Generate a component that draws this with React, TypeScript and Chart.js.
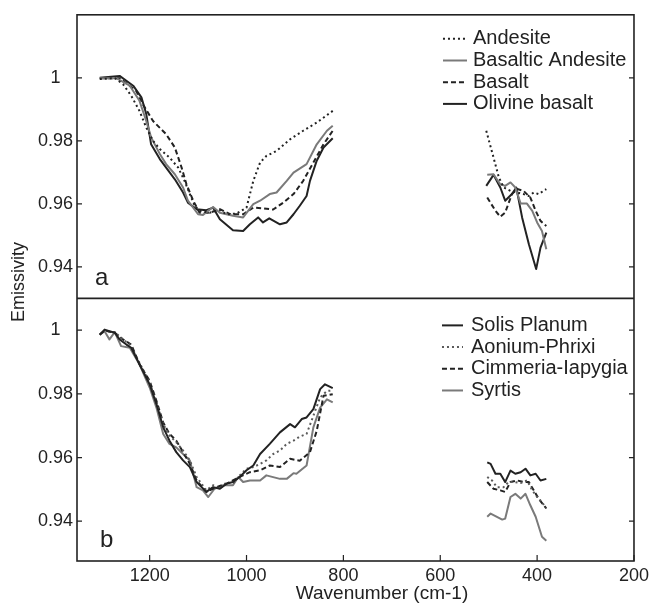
import React, { useEffect, useRef } from "react";
import { Chart, registerables } from "chart.js";

Chart.register(...registerables);

const FONT = "'Liberation Sans', Arial, Helvetica, sans-serif";
const INK = "#222222";
const GRAY = "#7a7a7a";
const DOTGRAY = "#5a5a5a";

const xTickValues = [1200, 1000, 800, 600, 400, 200];
const yTickValues = [1, 0.98, 0.96, 0.94];
const panelLabels = ["a", "b"];
const xTitle = "Wavenumber (cm-1)";
const yTitle = "Emissivity";

// ---------- Panel a ----------
const andesiteHiWn = [1303, 1272, 1255, 1238, 1221, 1207, 1193, 1179, 1159, 1141, 1128, 1117, 1107, 1097, 1076, 1055, 1041, 1021, 1000, 986, 972, 959, 938, 910, 883, 855, 822];
const andesiteHiEm = [0.9996, 0.9999, 0.998, 0.9943, 0.9895, 0.9842, 0.98, 0.9774, 0.9747, 0.9715, 0.9673, 0.9631, 0.9594, 0.9578, 0.9572, 0.958, 0.9567, 0.9569, 0.9588, 0.9673, 0.9731, 0.9752, 0.9768, 0.9805, 0.9832, 0.9858, 0.9895];
const andesiteLoWn = [505, 490, 479, 469, 455, 441, 428, 417, 407, 397, 381];
const andesiteLoEm = [0.9832, 0.9747, 0.9684, 0.9652, 0.9641, 0.9636, 0.9631, 0.9625, 0.9636, 0.9631, 0.9647];

const basAndHiWn = [1303, 1269, 1241, 1221, 1207, 1197, 1179, 1166, 1148, 1131, 1121, 1100, 1090, 1069, 1055, 1028, 1007, 986, 972, 952, 938, 917, 903, 876, 855, 834, 822];
const basAndHiEm = [0.9999, 0.9999, 0.9975, 0.9927, 0.9863, 0.9811, 0.9758, 0.9726, 0.9694, 0.9652, 0.961, 0.9567, 0.9565, 0.959, 0.9572, 0.9562, 0.9557, 0.9599, 0.961, 0.9631, 0.9636, 0.9673, 0.9699, 0.9726, 0.9789, 0.9832, 0.9848];
const basAndLoWn = [503, 490, 476, 466, 455, 445, 434, 421, 410, 400, 390, 381];
const basAndLoEm = [0.9692, 0.9694, 0.9662, 0.9657, 0.9668, 0.9652, 0.9601, 0.9601, 0.9578, 0.9541, 0.9514, 0.9456];

const basaltHiWn = [1303, 1262, 1228, 1214, 1193, 1166, 1148, 1134, 1124, 1110, 1097, 1076, 1055, 1034, 1007, 986, 966, 945, 924, 903, 883, 862, 841, 822];
const basaltHiEm = [0.9999, 0.9999, 0.9959, 0.9916, 0.9863, 0.9821, 0.9779, 0.9715, 0.9662, 0.961, 0.9572, 0.9572, 0.9583, 0.9567, 0.9567, 0.9588, 0.9586, 0.9582, 0.9604, 0.9631, 0.9673, 0.9731, 0.9789, 0.9832];
const basaltLoWn = [503, 486, 476, 466, 452, 441, 428, 414, 403, 393, 381];
const basaltLoEm = [0.962, 0.9578, 0.9559, 0.9572, 0.9631, 0.9647, 0.9641, 0.962, 0.9578, 0.9546, 0.953];

const olivineHiWn = [1303, 1262, 1234, 1217, 1207, 1197, 1179, 1166, 1148, 1131, 1121, 1103, 1083, 1069, 1055, 1028, 1007, 993, 976, 966, 953, 931, 917, 903, 890, 876, 869, 855, 841, 822];
const olivineHiEm = [1.0, 1.0006, 0.9975, 0.9938, 0.9885, 0.9789, 0.9742, 0.9715, 0.9678, 0.9636, 0.9604, 0.9583, 0.958, 0.9588, 0.9551, 0.9516, 0.9514, 0.9535, 0.9557, 0.9541, 0.9554, 0.9535, 0.9541, 0.9567, 0.9594, 0.9625, 0.9673, 0.9737, 0.9779, 0.9808];
const olivineLoWn = [505, 490, 476, 466, 452, 443, 431, 417, 402, 393, 381];
const olivineLoEm = [0.9657, 0.9692, 0.9652, 0.961, 0.9631, 0.9652, 0.9557, 0.9472, 0.9393, 0.9461, 0.9509];

// ---------- Panel b ----------
const solisHiWn = [1303, 1293, 1283, 1272, 1262, 1248, 1238, 1221, 1200, 1186, 1172, 1159, 1145, 1131, 1117, 1103, 1083, 1069, 1055, 1041, 1028, 1014, 1000, 986, 972, 952, 931, 910, 900, 886, 876, 862, 848, 838, 822];
const solisHiEm = [0.9986, 1.0002, 0.9997, 0.9992, 0.9971, 0.9955, 0.9945, 0.9893, 0.983, 0.9768, 0.9695, 0.9653, 0.9617, 0.9591, 0.957, 0.9523, 0.9492, 0.9507, 0.9502, 0.9518, 0.9523, 0.9539, 0.956, 0.9575, 0.9611, 0.9643, 0.9679, 0.9705, 0.9695, 0.9721, 0.9726, 0.9752, 0.9815, 0.983, 0.9818];
const solisLoWn = [503, 496, 486, 476, 466, 455, 445, 434, 424, 414, 403, 393, 381];
const solisLoEm = [0.9585, 0.958, 0.9549, 0.9549, 0.9523, 0.9559, 0.9549, 0.9554, 0.9565, 0.9544, 0.9549, 0.9528, 0.9533];

const aoniumHiWn = [1303, 1293, 1283, 1272, 1259, 1241, 1221, 1200, 1186, 1172, 1159, 1145, 1131, 1117, 1103, 1083, 1069, 1055, 1041, 1028, 1014, 1000, 986, 972, 959, 945, 931, 917, 903, 890, 876, 862, 848, 834, 822];
const aoniumHiEm = [0.9986, 0.9999, 0.9995, 0.9994, 0.9976, 0.9955, 0.9898, 0.9835, 0.9773, 0.9705, 0.9669, 0.9648, 0.9622, 0.9591, 0.9539, 0.9497, 0.9513, 0.9502, 0.9523, 0.9518, 0.9544, 0.9565, 0.957, 0.958, 0.9591, 0.9611, 0.9622, 0.9643, 0.9653, 0.9666, 0.9674, 0.9731, 0.9789, 0.9809, 0.9811];
const aoniumLoWn = [503, 493, 483, 469, 459, 448, 434, 421, 410, 400, 390, 381];
const aoniumLoEm = [0.9539, 0.9528, 0.9507, 0.9507, 0.9523, 0.9523, 0.952, 0.9528, 0.9497, 0.9476, 0.946, 0.944];

const cimmeriaHiWn = [1303, 1293, 1272, 1255, 1238, 1221, 1200, 1186, 1172, 1159, 1145, 1131, 1117, 1103, 1083, 1062, 1041, 1014, 993, 972, 952, 931, 910, 890, 869, 855, 841, 822];
const cimmeriaHiEm = [0.9986, 0.9999, 0.9992, 0.9971, 0.9955, 0.9893, 0.9841, 0.9778, 0.971, 0.9674, 0.9653, 0.9617, 0.958, 0.9528, 0.9492, 0.9507, 0.9518, 0.9539, 0.9554, 0.956, 0.9575, 0.957, 0.9596, 0.959, 0.9617, 0.9684, 0.9794, 0.9799];
const cimmeriaLoWn = [503, 490, 476, 466, 455, 441, 428, 417, 407, 397, 381];
const cimmeriaLoEm = [0.9523, 0.9502, 0.9497, 0.9492, 0.9523, 0.9528, 0.9523, 0.9523, 0.9497, 0.9471, 0.944];

const syrtisHiWn = [1303, 1293, 1283, 1272, 1259, 1241, 1221, 1200, 1186, 1172, 1159, 1145, 1131, 1117, 1103, 1090, 1079, 1066, 1048, 1028, 1017, 1007, 993, 972, 959, 931, 917, 903, 897, 876, 862, 848, 834, 822];
const syrtisHiEm = [0.9986, 0.9997, 0.9971, 0.9994, 0.995, 0.9945, 0.9893, 0.982, 0.9757, 0.9674, 0.9643, 0.9632, 0.9611, 0.9591, 0.9507, 0.9497, 0.9476, 0.9502, 0.9513, 0.9513, 0.9539, 0.9523, 0.9528, 0.9528, 0.9544, 0.9533, 0.9533, 0.9551, 0.9549, 0.9575, 0.9695, 0.9757, 0.9783, 0.9773];
const syrtisLoWn = [503, 496, 486, 472, 466, 455, 445, 434, 424, 414, 403, 390, 381];
const syrtisLoEm = [0.9414, 0.9424, 0.9416, 0.9405, 0.9408, 0.9476, 0.9486, 0.9471, 0.9486, 0.945, 0.9414, 0.9351, 0.9339];

function series(hiWn: number[], hiEm: number[], loWn: number[], loEm: number[]) {
  const pts: { x: number; y: number | null }[] = hiWn.map((x, i) => ({ x, y: hiEm[i] }));
  pts.push({ x: (hiWn[hiWn.length - 1] + loWn[0]) / 2, y: null });
  loWn.forEach((x, i) => pts.push({ x, y: loEm[i] }));
  return pts;
}

const panelA = [
  { label: "Andesite", data: series(andesiteHiWn, andesiteHiEm, andesiteLoWn, andesiteLoEm), color: INK, dash: [2, 3] },
  { label: "Basaltic Andesite", data: series(basAndHiWn, basAndHiEm, basAndLoWn, basAndLoEm), color: GRAY, dash: [] as number[] },
  { label: "Basalt", data: series(basaltHiWn, basaltHiEm, basaltLoWn, basaltLoEm), color: INK, dash: [5, 3] },
  { label: "Olivine basalt", data: series(olivineHiWn, olivineHiEm, olivineLoWn, olivineLoEm), color: INK, dash: [] as number[] },
];

const panelB = [
  { label: "Solis Planum", data: series(solisHiWn, solisHiEm, solisLoWn, solisLoEm), color: INK, dash: [] as number[] },
  { label: "Aonium-Phrixi", data: series(aoniumHiWn, aoniumHiEm, aoniumLoWn, aoniumLoEm), color: DOTGRAY, dash: [2, 3] },
  { label: "Cimmeria-Iapygia", data: series(cimmeriaHiWn, cimmeriaHiEm, cimmeriaLoWn, cimmeriaLoEm), color: INK, dash: [5, 3] },
  { label: "Syrtis", data: series(syrtisHiWn, syrtisHiEm, syrtisLoWn, syrtisLoEm), color: GRAY, dash: [] as number[] },
];

const decorPlugin = {
  id: "decor",
  afterDatasetsDraw(chart: any) {
    const { ctx, chartArea: ca, scales } = chart;
    const yA = scales.yA;
    const yB = scales.yB;
    const xs = scales.x;
    ctx.save();
    ctx.setLineDash([]);
    ctx.strokeStyle = INK;
    ctx.lineWidth = 1.6;
    ctx.strokeRect(ca.left, ca.top, ca.right - ca.left, ca.bottom - ca.top);
    ctx.beginPath();
    ctx.moveTo(ca.left, yA.bottom);
    ctx.lineTo(ca.right, yA.bottom);
    ctx.stroke();

    // inward tick marks
    ctx.lineWidth = 1.2;
    ctx.beginPath();
    for (const s of [yA, yB]) {
      for (const v of yTickValues) {
        const py = s.getPixelForValue(v);
        ctx.moveTo(ca.left, py);
        ctx.lineTo(ca.left + 5, py);
        ctx.moveTo(ca.right - 5, py);
        ctx.lineTo(ca.right, py);
      }
    }
    for (const v of xTickValues) {
      const px = xs.getPixelForValue(v);
      ctx.moveTo(px, ca.bottom);
      ctx.lineTo(px, ca.bottom - 6);
    }
    ctx.stroke();

    // legends
    const ds = chart.data.datasets;
    const drawLegend = (start: number, count: number, x0: number, x1: number, tx: number, y0: number) => {
      for (let i = 0; i < count; i++) {
        const d = ds[start + i];
        const y = y0 + i * 21.7;
        ctx.save();
        ctx.strokeStyle = d.borderColor;
        ctx.lineWidth = 2;
        ctx.setLineDash(d.borderDash || []);
        ctx.beginPath();
        ctx.moveTo(x0, y);
        ctx.lineTo(x1, y);
        ctx.stroke();
        ctx.restore();
        ctx.fillStyle = INK;
        ctx.font = `20px ${FONT}`;
        ctx.textAlign = "left";
        ctx.textBaseline = "middle";
        ctx.fillText(d.label, tx, y);
      }
    };
    drawLegend(0, panelA.length, ca.right - 191, ca.right - 167, ca.right - 161, ca.top + 24);
    drawLegend(panelA.length, panelB.length, ca.right - 192, ca.right - 171, ca.right - 163, yB.top + 27);

    // panel labels
    ctx.fillStyle = INK;
    ctx.font = `24px ${FONT}`;
    ctx.textAlign = "left";
    ctx.textBaseline = "alphabetic";
    ctx.fillText(panelLabels[0], ca.left + 18, yA.bottom - 13);
    ctx.fillText(panelLabels[1], ca.left + 23, yB.bottom - 14);

    // axis titles
    ctx.font = `19px ${FONT}`;
    ctx.textAlign = "center";
    ctx.fillText(xTitle, 382, 599);

    ctx.save();
    ctx.font = `18px ${FONT}`;
    ctx.translate(19, 282);
    ctx.rotate(-Math.PI / 2);
    ctx.textAlign = "center";
    ctx.textBaseline = "middle";
    ctx.fillText(yTitle, 0, 0);
    ctx.restore();

    ctx.restore();
  },
};

export default function App() {
  const ref = useRef<HTMLCanvasElement>(null);
  useEffect(() => {
    const canvas = ref.current;
    if (!canvas) return;
    const mk = (s: any, axis: string) => ({
      label: s.label,
      data: s.data,
      yAxisID: axis,
      borderColor: s.color,
      borderDash: s.dash,
      borderWidth: 2,
      borderCapStyle: "butt",
      borderJoinStyle: "round",
      pointRadius: 0,
      pointHoverRadius: 0,
      fill: false,
      tension: 0,
      spanGaps: false,
    });
    const yCommon = (min: number, max: number, weight: number) => ({
      type: "linear",
      position: "left",
      stack: "emis",
      stackWeight: weight,
      min,
      max,
      afterBuildTicks: (s: any) => {
        s.ticks = yTickValues.map((v) => ({ value: v }));
      },
      afterFit: (s: any) => {
        s.width = 77;
      },
      grid: { display: false, drawTicks: false },
      border: { display: false },
      ticks: {
        autoSkip: false,
        crossAlign: "center",
        padding: 4,
        color: INK,
        font: { family: FONT, size: 18 },
        callback: (v: any) => String(v),
      },
    });
    const chart = new Chart(canvas, {
      type: "line",
      data: {
        datasets: [...panelA.map((s) => mk(s, "yA")), ...panelB.map((s) => mk(s, "yB"))] as any,
      },
      options: {
        responsive: false,
        animation: false,
        devicePixelRatio: 1,
        layout: { padding: { left: 0, right: 19, top: 14, bottom: 0 } },
        plugins: { legend: { display: false }, tooltip: { enabled: false } },
        events: [],
        scales: {
          x: {
            type: "linear",
            reverse: true,
            min: 200,
            max: 1350,
            afterBuildTicks: (s: any) => {
              s.ticks = xTickValues.map((v) => ({ value: v }));
            },
            afterFit: (s: any) => {
              s.height = 49;
            },
            grid: { display: false, drawTicks: false },
            border: { display: false },
            ticks: {
              autoSkip: false,
              maxRotation: 0,
              padding: 4,
              color: INK,
              font: { family: FONT, size: 18 },
              callback: (v: any) => String(v),
            },
          },
          yB: yCommon(0.9275, 1.01, 263),
          yA: yCommon(0.93, 1.02, 284),
        } as any,
      },
      plugins: [decorPlugin],
    } as any);
    return () => chart.destroy();
  }, []);
  return (
    <div style={{ position: "absolute", left: 0, top: 0, width: 653, height: 610, background: "#fff" }}>
      <canvas ref={ref} width={653} height={610} style={{ display: "block" }} />
    </div>
  );
}
